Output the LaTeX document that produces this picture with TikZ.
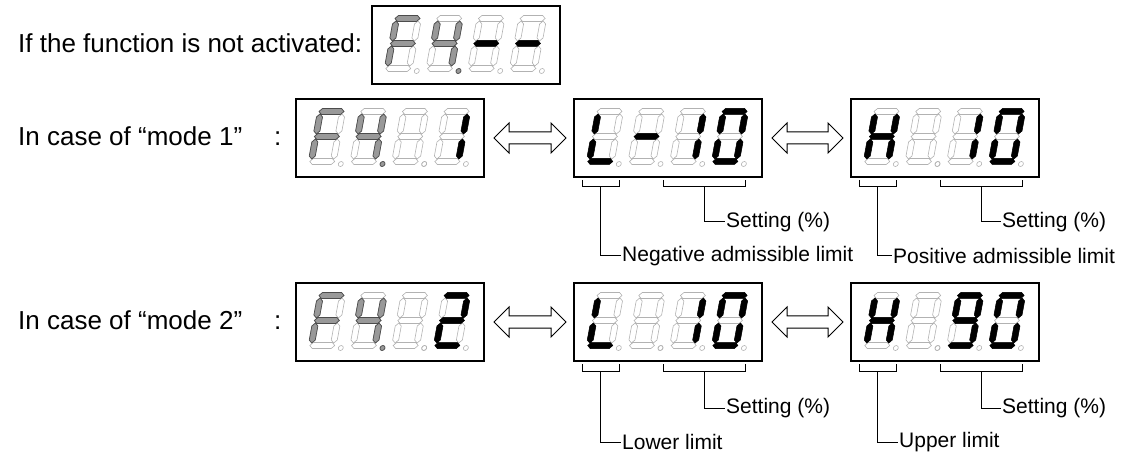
\documentclass[tikz,border=0pt]{standalone}
\usepackage{fontspec}
\setmainfont{Liberation Sans}
\usetikzlibrary{calc}
\tikzset{
  panel/.style={draw, line width=1.7pt, minimum width=188pt, minimum height=78pt, inner sep=0pt, outer sep=0pt},
  segoff/.style={draw=black!30, line width=0.6pt},
  segon/.style={draw=black, fill=black, line width=0.5pt},
  segdim/.style={draw=black!70, fill=black!40, line width=0.7pt},
  swap/.style={draw, fill=white, line width=1pt},
  main/.style={anchor=base west, inner sep=0pt, font=\fontsize{26}{31}\selectfont},
  lbl/.style={anchor=west, inner sep=1pt, font=\fontsize{21}{25}\selectfont},
  lead/.style={line width=1pt},
  seg/.style={seg-#1},
  seg-a/.style={insert path={(1.5,53) -- (4.5,56) -- (23.5,56) -- (26.5,53) -- (23.5,50) -- (4.5,50) -- cycle}},
  seg-b/.style={insert path={(25,30.5) -- (28,33.5) -- (28,47.5) -- (25,50.5) -- (22,47.5) -- (22,33.5) -- cycle}},
  seg-c/.style={insert path={(25,5.5) -- (28,8.5) -- (28,22.5) -- (25,25.5) -- (22,22.5) -- (22,8.5) -- cycle}},
  seg-d/.style={insert path={(1.5,3) -- (4.5,6) -- (23.5,6) -- (26.5,3) -- (23.5,0) -- (4.5,0) -- cycle}},
  seg-e/.style={insert path={(3,5.5) -- (6,8.5) -- (6,22.5) -- (3,25.5) -- (0,22.5) -- (0,8.5) -- cycle}},
  seg-f/.style={insert path={(3,30.5) -- (6,33.5) -- (6,47.5) -- (3,50.5) -- (0,47.5) -- (0,33.5) -- cycle}},
  seg-g/.style={insert path={(1.5,28) -- (4.5,31) -- (23.5,31) -- (26.5,28) -- (23.5,25) -- (4.5,25) -- cycle}},
  seg-p/.style={insert path={(33,0.5) circle (2.5)}}
}
% one digit: panel, place, lit segments, look of the lit segments
\newcommand{\sevenseg}[4]{%
  \begin{scope}[shift={($(#1.south west)+(11.7+41.7*#2,-12.5)$)}, xslant=0.185, yscale=-1]
    \path [segoff, seg/.list={a,b,c,d,e,f,g,p}];
    \path [#4, seg/.list={#3}];
  \end{scope}}
% hollow double arrow between two panels
\newcommand{\swaparrow}[2]{%
  \draw [swap] ($(#1.east)+(10,0)$) -- ++(15,-15) -- ++(0,9) -- ($(#2.west)+(-23,-6)$) -- ++(0,-9)
    -- ($(#2.west)+(-8,0)$) -- ++(-15,15) -- ++(0,-9) -- ($(#1.east)+(25,6)$) -- ++(0,9) -- cycle;}

\begin{document}
\begin{tikzpicture}[x=1pt, y=-1pt]
    \useasboundingbox (0,0) rectangle (1127,454);

    % not activated
    \node [main] (q0) at (18,53) {If the function is not activated:};
    \node [panel] (t) at (466,45) {};
    \sevenseg{t}{0}{a,e,f,g}{segdim}
    \sevenseg{t}{1}{b,c,f,g,p}{segdim}
    \sevenseg{t}{2}{g}{segon}
    \sevenseg{t}{3}{g}{segon}

    % mode 1
    \node [main] (q1) at (18,146) {\makebox[256pt][l]{In case of “mode 1”}:};
    \node [panel] (b1) at (390,138) {};
    \node [panel] (m1) at (668,138) {};
    \node [panel] (r1) at (945,138) {};
    \swaparrow{b1}{m1}
    \swaparrow{m1}{r1}

    \sevenseg{b1}{0}{a,e,f,g}{segdim}
    \sevenseg{b1}{1}{b,c,f,g,p}{segdim}
    \sevenseg{b1}{2}{p}{segoff}
    \sevenseg{b1}{3}{b,c}{segon}

    \sevenseg{m1}{0}{d,e,f}{segon}
    \sevenseg{m1}{1}{g}{segon}
    \sevenseg{m1}{2}{b,c}{segon}
    \sevenseg{m1}{3}{a,b,c,d,e,f}{segon}

    \sevenseg{r1}{0}{b,c,e,f,g}{segon}
    \sevenseg{r1}{1}{p}{segoff}
    \sevenseg{r1}{2}{b,c}{segon}
    \sevenseg{r1}{3}{a,b,c,d,e,f}{segon}

    \draw [lead] ($(m1.south west)+(8,3)$) -- ++(0,7) -- ++(37,0) coordinate [midway] (m1l) -- ++(0,-7);
    \draw [lead] ($(m1.south west)+(89,3)$) -- ++(0,7) -- ++(82,0) coordinate [midway] (m1s) -- ++(0,-7);
    \node [lbl] (m1set) at ($(m1.south west)+(151,45)$) {Setting (\%)};
    \node [lbl] (m1lim) at ($(m1.south west)+(47,79)$) {Negative admissible limit};
    \draw [lead] (m1s) |- (m1set.west);
    \draw [lead] (m1l) |- (m1lim.west);

    \draw [lead] ($(r1.south west)+(8,3)$) -- ++(0,7) -- ++(37,0) coordinate [midway] (r1l) -- ++(0,-7);
    \draw [lead] ($(r1.south west)+(89,3)$) -- ++(0,7) -- ++(82,0) coordinate [midway] (r1s) -- ++(0,-7);
    \node [lbl] (r1set) at ($(r1.south west)+(150,45)$) {Setting (\%)};
    \node [lbl] (r1lim) at ($(r1.south west)+(41,79)$) {Positive admissible limit};
    \draw [lead] (r1s) |- (r1set.west);
    \draw [lead] (r1l) |- (r1lim.west);

    % mode 2
    \node [main] (q2) at (18,330) {\makebox[256pt][l]{In case of “mode 2”}:};
    \node [panel] (b2) at (390,322) {};
    \node [panel] (m2) at (668,322) {};
    \node [panel] (r2) at (945,322) {};
    \swaparrow{b2}{m2}
    \swaparrow{m2}{r2}

    \sevenseg{b2}{0}{a,e,f,g}{segdim}
    \sevenseg{b2}{1}{b,c,f,g,p}{segdim}
    \sevenseg{b2}{2}{p}{segoff}
    \sevenseg{b2}{3}{a,b,d,e,g}{segon}

    \sevenseg{m2}{0}{d,e,f}{segon}
    \sevenseg{m2}{1}{p}{segoff}
    \sevenseg{m2}{2}{b,c}{segon}
    \sevenseg{m2}{3}{a,b,c,d,e,f}{segon}

    \sevenseg{r2}{0}{b,c,e,f,g}{segon}
    \sevenseg{r2}{1}{p}{segoff}
    \sevenseg{r2}{2}{a,b,c,d,f,g}{segon}
    \sevenseg{r2}{3}{a,b,c,d,e,f}{segon}

    \draw [lead] ($(m2.south west)+(8,3)$) -- ++(0,7) -- ++(37,0) coordinate [midway] (m2l) -- ++(0,-7);
    \draw [lead] ($(m2.south west)+(89,3)$) -- ++(0,7) -- ++(82,0) coordinate [midway] (m2s) -- ++(0,-7);
    \node [lbl] (m2set) at ($(m2.south west)+(151,47)$) {Setting (\%)};
    \node [lbl] (m2lim) at ($(m2.south west)+(47,81)$) {Lower limit};
    \draw [lead] (m2s) |- (m2set.west);
    \draw [lead] (m2l) |- (m2lim.west);

    \draw [lead] ($(r2.south west)+(8,3)$) -- ++(0,7) -- ++(37,0) coordinate [midway] (r2l) -- ++(0,-7);
    \draw [lead] ($(r2.south west)+(89,3)$) -- ++(0,7) -- ++(82,0) coordinate [midway] (r2s) -- ++(0,-7);
    \node [lbl] (r2set) at ($(r2.south west)+(150,47)$) {Setting (\%)};
    \node [lbl] (r2lim) at ($(r2.south west)+(47,81)$) {Upper limit};
    \draw [lead] (r2s) |- (r2set.west);
    \draw [lead] (r2l) |- (r2lim.west);
\end{tikzpicture}
\end{document}
